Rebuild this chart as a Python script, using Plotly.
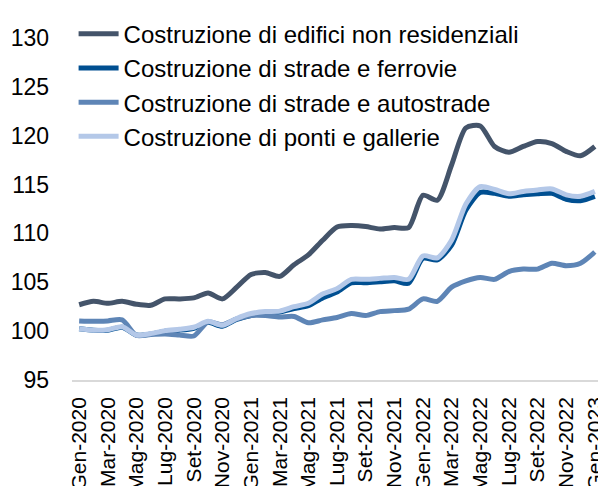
# Indici costruzione - grafico a linee con plotly
import plotly.graph_objects as go

mesi = ["Gen", "Feb", "Mar", "Apr", "Mag", "Giu", "Lug", "Ago", "Set", "Ott", "Nov", "Dic"]
periodi = [f"{m}-{a}" for a in (2020, 2021, 2022) for m in mesi] + ["Gen-2023"]

edifici = [102.7, 103.05, 102.85, 103.05, 102.75, 102.65, 103.3, 103.3, 103.4, 103.9, 103.3, 104.5,
           105.8, 106.0, 105.6, 106.8, 107.8, 109.3, 110.65, 110.8, 110.7, 110.45, 110.6, 110.6,
           113.9, 113.4, 117.0, 120.8, 121.0, 118.9, 118.3, 118.9, 119.4, 119.2, 118.4, 117.95,
           118.9]
ferrovie = [100.25, 100.1, 100.1, 100.4, 99.6, 99.7, 100.0, 100.1, 100.3, 100.9, 100.5, 101.2,
            101.6, 101.85, 101.95, 102.3, 102.6, 103.4, 104.0, 104.95, 104.95, 105.05, 105.15, 104.9,
            107.45, 107.3, 108.8, 112.4, 114.2, 114.1, 113.8, 113.95, 114.05, 114.1, 113.5, 113.35,
            113.8]
autostrade = [101.05, 101.0, 101.05, 101.15, 99.55, 99.65, 99.7, 99.6, 99.5, 100.95, 100.65, 101.25,
              101.6, 101.6, 101.45, 101.5, 100.85, 101.15, 101.4, 101.8, 101.6, 102.0, 102.1, 102.25,
              103.3, 103.05, 104.5, 105.15, 105.5, 105.3, 106.1, 106.35, 106.35, 106.95, 106.7, 106.95,
              108.1]
ponti = [100.25, 100.1, 100.15, 100.45, 99.6, 99.75, 100.05, 100.2, 100.4, 101.0, 100.6, 101.3,
         101.8, 102.0, 102.05, 102.5, 102.85, 103.8, 104.35, 105.3, 105.3, 105.4, 105.5, 105.3,
         107.7, 107.5, 109.3, 113.0, 114.8, 114.5, 114.05, 114.3, 114.45, 114.55, 113.95, 113.8,
         114.3]

serie = [
    ("Costruzione di edifici non residenziali", edifici, "#44546A"),
    ("Costruzione di strade e ferrovie", ferrovie, "#004F91"),
    ("Costruzione di strade e autostrade", autostrade, "#5E85B6"),
    ("Costruzione di ponti e gallerie", ponti, "#B4C8E8"),
]

x = list(range(len(periodi)))

fig = go.Figure()
for nome, valori, colore in serie:
    fig.add_trace(go.Scatter(x=x, y=valori, name=nome, mode="lines",
                             line=dict(color=colore, width=5, shape="spline", smoothing=0.7)))

fig.update_xaxes(range=[-0.5, 36.5], tickvals=x[::2], ticktext=periodi[::2], tickangle=-90,
                 showgrid=False, zeroline=False, showline=True, linecolor="#D9D9D9", linewidth=1.5,
                 ticks="", ticklabelstandoff=7, automargin=False, tickfont=dict(size=21),
                 ticklabeloverflow="allow")
fig.update_yaxes(range=[95, 130], dtick=5, showgrid=False, zeroline=False, showline=False,
                 ticks="", ticklabelstandoff=22, automargin=False, tickfont=dict(size=23))

# the page body has an 8px margin, so the figure is 8px smaller and the margins shifted
fig.update_layout(
    width=598, height=478,
    margin=dict(l=64, r=4, t=21, b=106),
    paper_bgcolor="white", plot_bgcolor="white",
    font=dict(family="Liberation Sans, Arial", size=23, color="black"),
    showlegend=True,
    legend=dict(x=0.003, y=1.077, xanchor="left", yanchor="top", bgcolor="rgba(0,0,0,0)",
                font=dict(size=24), itemwidth=40, tracegroupgap=0),
)

fig.write_html("out.html")
